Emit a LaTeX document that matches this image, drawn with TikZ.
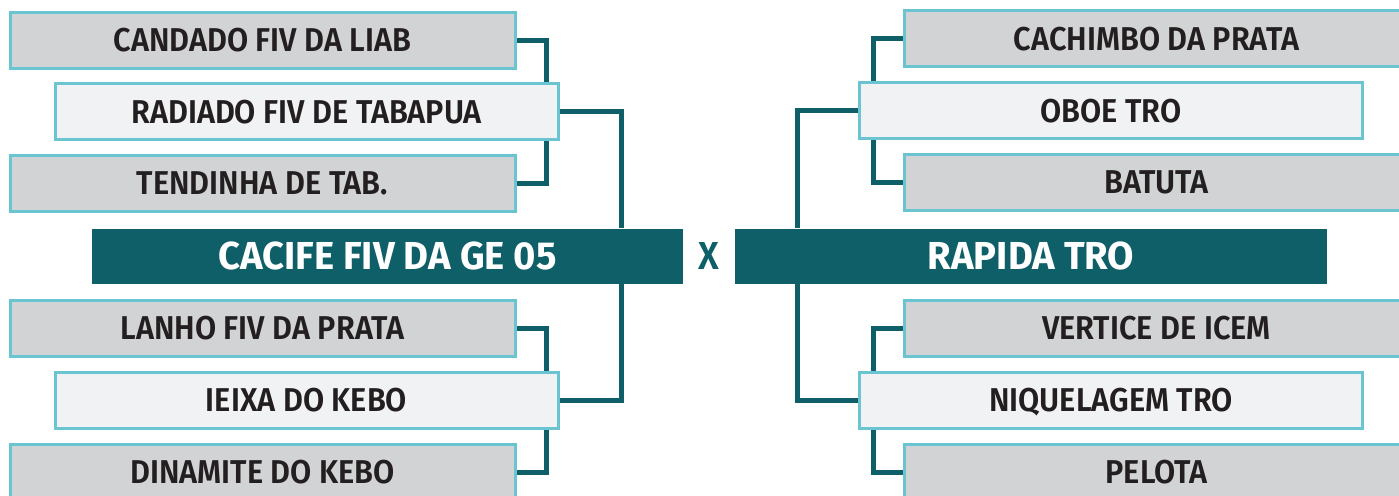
\documentclass[tikz,border=0pt]{standalone}
\usepackage{fontspec}
\setmainfont{Fira Sans}
\newfontfamily\boxfont{Fira Sans SemiBold}[FakeStretch=0.93]
\newfontfamily\headfont{Fira Sans Bold}[FakeStretch=0.98]
\usetikzlibrary{backgrounds}
\definecolor{cyanb}{HTML}{6AC4D1}
\definecolor{grayf}{HTML}{D1D3D4}
\definecolor{lightf}{HTML}{F1F2F3}
\definecolor{tealc}{HTML}{0F5F69}
\definecolor{txt}{HTML}{231F20}
\begin{document}
\begin{tikzpicture}[x=0.5pt,y=-0.5pt,
  gbox/.style={draw=cyanb, fill=grayf, line width=1.5pt, minimum width=252.5pt,
    minimum height=28pt, inner sep=0pt, text=txt,
    font=\boxfont\fontsize{16.5}{17}\selectfont, text height=11.5pt, text depth=0pt},
  lbox/.style={gbox, fill=lightf, minimum width=251.5pt},
  tbox/.style={fill=tealc, text=white, minimum height=27.5pt, inner sep=0pt,
    font=\headfont\fontsize{19.5}{20}\selectfont, text height=13.5pt, text depth=0pt},
  link/.style={draw=tealc, line width=2.5pt, line join=miter}]
\useasboundingbox (0,0) rectangle (1399,495);
% left side
\node[gbox] (c1) at (262.5,40) {CANDADO FIV DA LIAB};
\node[lbox] (c2) at (306.5,111.5) {RADIADO FIV DE TABAPUA};
\node[gbox] (c3) at (262.5,183) {TENDINHA DE TAB.};
\node[tbox, minimum width=295.5pt] (cac) at (387.5,256) {CACIFE FIV DA GE 05};
\node[gbox] (c4) at (262.5,328) {LANHO FIV DA PRATA};
\node[lbox] (c5) at (306.5,400) {IEIXA DO KEBO};
\node[gbox] (c6) at (262.5,472) {DINAMITE DO KEBO};
% right side
\node[gbox] (r1) at (1156.5,38.5) {CACHIMBO DA PRATA};
\node[lbox] (r2) at (1111,110.5) {OBOE TRO};
\node[gbox] (r3) at (1156.5,182) {BATUTA};
\node[tbox, minimum width=296pt] (rap) at (1031,256) {RAPIDA TRO};
\node[gbox] (r4) at (1156.5,328) {VERTICE DE ICEM};
\node[lbox] (r5) at (1111,400) {NIQUELAGEM TRO};
\node[gbox] (r6) at (1156.5,472) {PELOTA};
% versus
\node[text=tealc, inner sep=0pt, font=\boxfont\fontsize{19.5}{20}\selectfont,
  text height=13.5pt, text depth=0pt] (vs) at (709,256) {X};
% junction columns
\coordinate (jl) at (546,0);
\coordinate (jlm) at (621,0);
\coordinate (jr) at (873,0);
\coordinate (jrm) at (797,0);
\begin{scope}[on background layer]
\draw[link] (c1.east) -| (c2.north -| jl);
\draw[link] (c2.south -| jl) |- (c3.east);
\draw[link] (c2.east) -| (cac.north -| jlm);
\draw[link] (c4.east) -| (c5.north -| jl);
\draw[link] (c5.south -| jl) |- (c6.east);
\draw[link] (c5.east) -| (cac.south -| jlm);
\draw[link] (r1.west) -| (r2.north -| jr);
\draw[link] (r2.south -| jr) |- (r3.west);
\draw[link] (r2.west) -| (rap.north -| jrm);
\draw[link] (r4.west) -| (r5.north -| jr);
\draw[link] (r5.south -| jr) |- (r6.west);
\draw[link] (r5.west) -| (rap.south -| jrm);
\end{scope}
\end{tikzpicture}
\end{document}
